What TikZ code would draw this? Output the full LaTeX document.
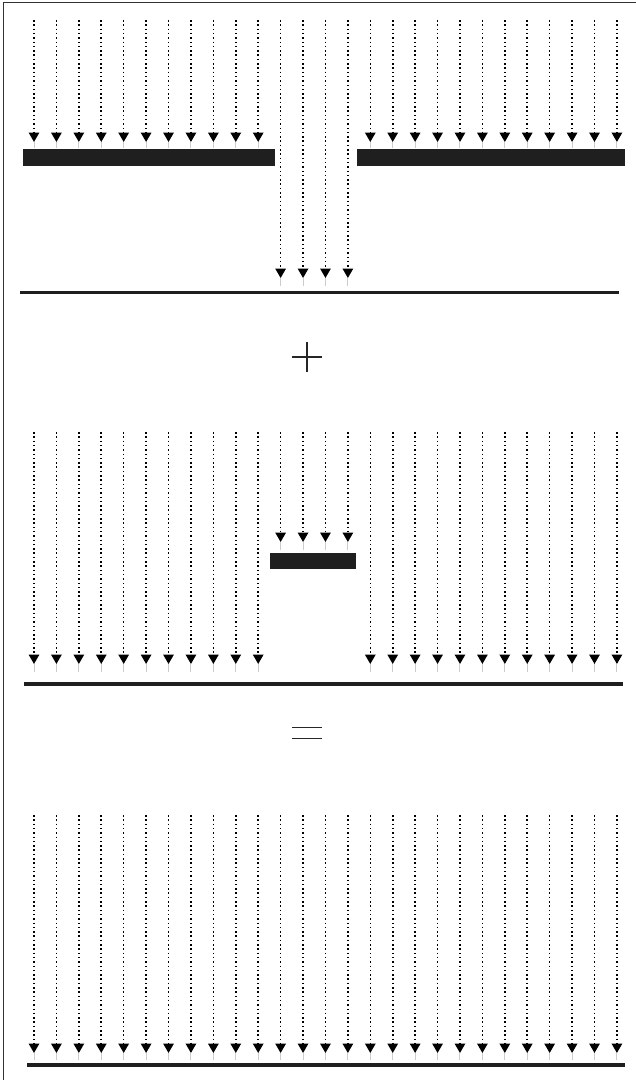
\documentclass[tikz,border=0pt]{standalone}
\usetikzlibrary{arrows.meta}
\begin{document}
\begin{tikzpicture}[x=1pt,y=-1pt,
  ray/.style={line width=1.6pt, dash pattern=on 1.5pt off 2.8pt, -{Triangle[width=10.5pt,length=9.5pt]}},
  stem/.style={line width=1pt, gray!40},
  plate/.style={fill=black!88, draw=none},
  ground/.style={line width=3.8pt, black!88},
  frameline/.style={line width=1pt, black!80},
  sign/.style={line width=1.6pt, black!85}]
\useasboundingbox (0,0) rectangle (636,1080);
\draw[frameline] (3,1080) -- (3,2) -- (636,2);
\def\dx{22.42}
% ---------- top panel ----------
\foreach \i in {0,...,26}{
  \pgfmathsetmacro{\xx}{34+\i*\dx}
  \ifnum\i<11
    \coordinate (ta\i) at (\xx,20); \coordinate (tb\i) at (\xx,142);
    \draw[ray] (ta\i) -- (tb\i);
    \draw[stem] (\xx,142) -- (\xx,148);
  \else\ifnum\i<15
    \coordinate (ta\i) at (\xx,20); \coordinate (tb\i) at (\xx,278);
    \draw[ray] (ta\i) -- (tb\i);
    \draw[stem] (\xx,278) -- (\xx,286);
  \else
    \coordinate (ta\i) at (\xx,20); \coordinate (tb\i) at (\xx,142);
    \draw[ray] (ta\i) -- (tb\i);
    \draw[stem] (\xx,142) -- (\xx,148);
  \fi\fi
}
\fill[plate] (23,149) rectangle (275,166);
\fill[plate] (357,149) rectangle (625,166);
\coordinate (g1a) at (20,292.5); \coordinate (g1b) at (619,292.5);
\draw[ground] (g1a) -- (g1b);
% plus
\coordinate (pc) at (307,357);
\draw[sign] ([xshift=-15pt]pc) -- ([xshift=15pt]pc);
\draw[sign] ([yshift=-15pt]pc) -- ([yshift=15pt]pc);
% ---------- middle panel ----------
\foreach \i in {0,...,26}{
  \pgfmathsetmacro{\xx}{34+\i*\dx}
  \ifnum\i<11
    \coordinate (ma\i) at (\xx,432); \coordinate (mb\i) at (\xx,664);
    \draw[ray] (ma\i) -- (mb\i);
    \draw[stem] (\xx,664) -- (\xx,672);
  \else\ifnum\i<15
    \coordinate (ma\i) at (\xx,432); \coordinate (mb\i) at (\xx,542);
    \draw[ray] (ma\i) -- (mb\i);
    \draw[stem] (\xx,542) -- (\xx,550);
  \else
    \coordinate (ma\i) at (\xx,432); \coordinate (mb\i) at (\xx,664);
    \draw[ray] (ma\i) -- (mb\i);
    \draw[stem] (\xx,664) -- (\xx,672);
  \fi\fi
}
\fill[plate] (270,553) rectangle (356,569);
\coordinate (g2a) at (24,684); \coordinate (g2b) at (623,684);
\draw[ground] (g2a) -- (g2b);
% equals
\coordinate (ec) at (307,733);
\draw[sign] ([xshift=-15pt,yshift=-5.5pt]ec) -- ([xshift=15pt,yshift=-5.5pt]ec);
\draw[sign] ([xshift=-15pt,yshift=5.5pt]ec) -- ([xshift=15pt,yshift=5.5pt]ec);
% ---------- bottom panel ----------
\foreach \i in {0,...,26}{
  \pgfmathsetmacro{\xx}{34+\i*\dx}
  \coordinate (ba\i) at (\xx,815); \coordinate (bb\i) at (\xx,1053);
  \draw[ray] (ba\i) -- (bb\i);
  \draw[stem] (\xx,1053) -- (\xx,1060);
}
\coordinate (g3a) at (27,1065); \coordinate (g3b) at (625,1065);
\draw[ground] (g3a) -- (g3b);
\end{tikzpicture}
\end{document}
